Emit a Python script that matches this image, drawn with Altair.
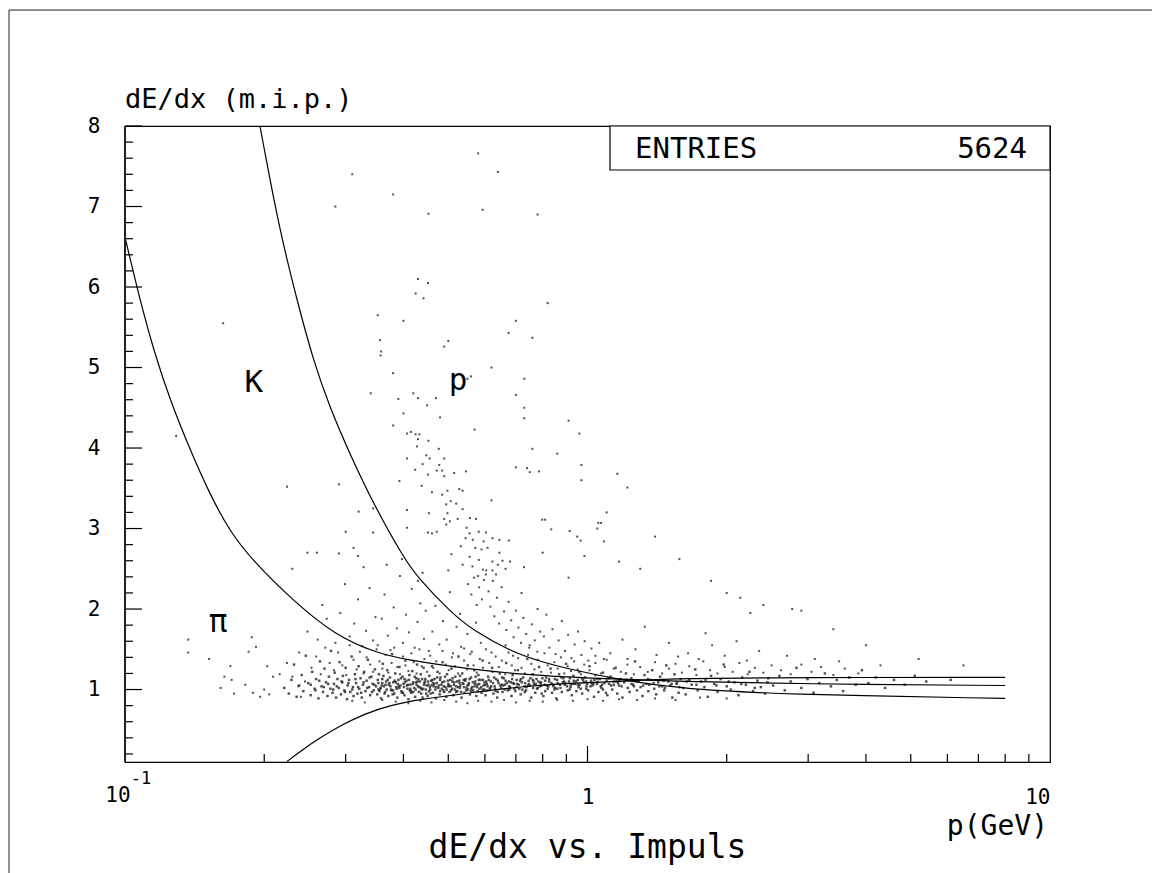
import altair as alt
import pandas as pd

# ---------------- curves ----------------
CURVE_A_P = [0.100, 0.1077, 0.1161, 0.1251, 0.1382, 0.1527, 0.1687, 0.1882, 0.2332, 0.2844,
             0.3471, 0.4031, 0.5626, 0.7147, 1.0, 1.585, 2.880, 8.0]
CURVE_A_V = [6.62, 5.84, 5.16, 4.60, 3.98, 3.42, 2.96, 2.61, 2.08, 1.68,
             1.46, 1.37, 1.25, 1.19, 1.14, 1.10, 1.07, 1.05]

CURVE_B_P = [0.1958, 0.2058, 0.2185, 0.2354, 0.2549, 0.2774, 0.3066, 0.3471, 0.4011, 0.4300,
             0.5043, 0.5626, 0.7147, 0.9166, 1.176, 1.585, 2.608, 8.0]
CURVE_B_V = [8.00, 7.33, 6.59, 5.84, 5.10, 4.50, 3.92, 3.27, 2.63, 2.39,
             1.97, 1.74, 1.41, 1.25, 1.12, 1.01, 0.94, 0.89]

CURVE_C_P = [0.2240, 0.2389, 0.2640, 0.2916, 0.3303, 0.3722, 0.4343, 0.5626, 0.7147, 1.0,
             1.176, 1.585, 2.880, 8.0]
CURVE_C_V = [0.106, 0.23, 0.40, 0.55, 0.70, 0.80, 0.88, 0.96, 1.04, 1.09,
             1.10, 1.14, 1.15, 1.15]

# ---------------- scatter entries ----------------
OUTLIERS = [
    (0.285, 7.00), (0.453, 6.91), (0.593, 6.96), (0.31, 7.40), (0.58, 7.66), (0.38, 7.15), (0.64, 7.43),
    (0.78, 6.90), (0.43, 6.10), (0.452, 6.05), (0.425, 5.92), (0.442, 5.86), (0.82, 5.80), (0.352, 5.65),
    (0.400, 5.58), (0.700, 5.58), (0.675, 5.43), (0.760, 5.37), (0.356, 5.34), (0.50, 5.33), (0.49, 5.26),
    (0.358, 5.20), (0.357, 5.15), (0.38, 4.93), (0.56, 4.89), (0.55, 4.86), (0.73, 4.86), (0.34, 4.68),
    (0.42, 4.68), (0.70, 4.66), (0.39, 4.61), (0.43, 4.62), (0.47, 4.62), (0.45, 4.53), (0.40, 4.43),
    (0.48, 4.38), (0.73, 4.50), (0.73, 4.37), (0.91, 4.34), (0.57, 4.23), (0.38, 4.28), (0.86, 3.93),
    (0.97, 3.60), (1.22, 3.51), (0.75, 3.70), (0.70, 3.76), (1.10, 3.20), (1.05, 3.00), (1.30, 2.50),
    (1.58, 2.62), (1.85, 2.35), (2.4, 2.05), (2.9, 1.98), (0.30, 2.96), (0.32, 3.21), (0.29, 3.55),
    (0.26, 2.70), (0.23, 2.50), (0.129, 4.15), (0.163, 5.55), (0.224, 3.52), (0.248, 2.70), (1.4, 2.9),
    (2.0, 2.2), (2.25, 1.95), (3.4, 1.75), (4.0, 1.55), (5.2, 1.38), (6.5, 1.3), (0.95, 2.9), (0.62, 5.0),
    (2.14, 2.14), (2.77, 2.0),
]

PROTON = [
    (0.407, 4.18), (0.415, 4.20), (0.425, 4.17), (0.433, 4.17), (0.43, 4.11), (0.453, 4.09), (0.428, 4.02),
    (0.477, 3.99), (0.448, 3.91), (0.456, 3.87), (0.49, 3.87), (0.407, 3.87), (0.478, 3.79), (0.44, 3.80),
    (0.424, 3.73), (0.472, 3.72), (0.485, 3.72), (0.515, 3.69), (0.546, 3.71), (0.452, 3.67), (0.49, 3.65),
    (0.392, 3.59), (0.438, 3.53), (0.461, 3.45), (0.485, 3.42), (0.498, 3.47), (0.528, 3.49), (0.537, 3.47),
    (0.506, 3.34), (0.495, 3.30), (0.52, 3.31), (0.537, 3.24), (0.454, 3.19), (0.498, 3.19), (0.49, 3.12),
    (0.504, 3.09), (0.524, 3.12), (0.495, 3.05), (0.557, 3.13), (0.574, 3.12), (0.472, 2.96), (0.452, 2.95),
    (0.461, 2.94), (0.548, 3.01), (0.556, 2.94), (0.582, 2.96), (0.603, 2.95), (0.545, 2.88), (0.565, 2.86),
    (0.596, 2.84), (0.623, 2.88), (0.645, 2.86), (0.676, 2.85), (0.532, 2.78), (0.572, 2.76), (0.59, 2.74),
    (0.608, 2.76), (0.645, 2.70), (0.508, 2.68), (0.556, 2.65), (0.582, 2.61), (0.623, 2.59), (0.655, 2.60),
    (0.68, 2.59), (0.537, 2.55), (0.564, 2.53), (0.594, 2.49), (0.623, 2.48), (0.665, 2.50), (0.603, 2.43),
    (0.58, 2.41), (0.634, 2.43), (0.50, 2.48), (0.44, 2.45), (0.407, 3.23), (0.407, 3.01), (0.344, 2.95),
    (0.344, 3.25), (0.319, 2.66), (0.312, 2.76), (0.29, 2.69), (0.328, 2.52), (0.729, 2.52), (0.798, 3.11),
    (0.81, 3.11), (0.835, 2.99), (0.915, 2.97), (0.967, 2.85), (0.985, 2.66), (1.085, 2.84), (1.055, 3.07),
    (1.07, 3.07), (1.17, 2.59), (1.16, 3.68), (0.97, 3.79), (0.785, 3.71), (0.74, 3.75), (0.76, 3.99),
    (0.96, 4.18), (0.62, 3.35), (0.80, 2.70), (0.91, 2.39),
    (0.552, 2.31), (0.561, 2.18), (0.568, 2.39), (0.576, 2.05), (0.583, 2.27), (0.591, 2.12), (0.597, 2.36),
    (0.604, 2.48), (0.611, 2.22), (0.617, 2.03), (0.624, 2.35), (0.629, 1.91), (0.637, 2.14), (0.644, 1.82),
    (0.652, 2.27), (0.66, 1.97), (0.668, 1.74), (0.675, 2.09), (0.684, 1.86), (0.692, 1.65), (0.7, 1.98),
    (0.709, 1.77), (0.718, 1.58), (0.727, 1.89), (0.737, 1.69), (0.748, 1.52), (0.758, 1.81), (0.769, 1.61),
    (0.779, 1.47), (0.79, 1.72), (0.64, 2.55), (0.72, 2.2), (0.665, 1.55), (0.78, 2.0),
    (0.805, 1.66), (0.815, 1.93), (0.827, 1.52), (0.84, 1.75), (0.853, 1.44), (0.866, 1.61), (0.88, 1.85),
    (0.894, 1.48), (0.908, 1.68), (0.923, 1.39), (0.938, 1.56), (0.954, 1.72), (0.97, 1.43), (0.986, 1.6),
    (1.004, 1.36), (1.02, 1.51), (1.04, 1.42), (1.06, 1.58), (1.085, 1.38),
]

KAON_CLOUD = [
    (0.261, 1.62), (0.273, 1.88), (0.248, 1.72), (0.267, 2.05),
    (0.285, 1.58), (0.292, 1.95), (0.299, 2.31), (0.306, 1.66), (0.313, 1.82), (0.319, 2.12), (0.326, 1.54),
    (0.332, 1.73), (0.338, 2.26), (0.344, 1.61), (0.348, 1.9),
    (0.352, 1.55), (0.359, 1.88), (0.364, 2.18), (0.37, 1.67), (0.375, 1.49), (0.381, 2.02), (0.387, 1.76),
    (0.393, 2.41), (0.399, 1.58), (0.405, 1.93), (0.411, 1.71), (0.417, 2.25), (0.423, 1.52), (0.429, 1.84),
    (0.435, 2.07), (0.443, 1.63), (0.447, 1.98), (0.368, 2.55), (0.397, 2.62), (0.43, 2.35),
    (0.454, 1.48), (0.462, 1.72), (0.469, 2.04), (0.478, 1.56), (0.487, 1.85), (0.496, 1.62), (0.504, 2.21),
    (0.512, 1.45), (0.521, 1.78), (0.53, 1.94), (0.541, 1.51), (0.55, 1.69), (0.562, 1.47), (0.574, 1.83),
    (0.588, 1.58), (0.62, 1.46), (0.69, 1.42), (0.75, 1.55),
    (1.12, 1.45), (1.19, 1.62), (1.27, 1.5), (1.33, 1.78), (1.41, 1.43), (1.5, 1.58), (1.57, 1.41),
    (1.22, 1.38), (1.65, 1.45), (1.74, 1.38), (1.86, 1.55), (1.98, 1.42), (2.1, 1.6), (2.21, 1.36),
    (2.35, 1.48), (1.8, 1.7), (2.7, 1.42), (3.1, 1.38), (3.5, 1.35), (4.3, 1.3),
]

LOW_P = [
    (0.137, 1.62), (0.137, 1.46), (0.152, 1.38), (0.169, 1.29), (0.164, 1.16), (0.161, 1.02), (0.172, 0.95),
    (0.170, 1.12), (0.188, 1.65), (0.185, 1.47), (0.192, 1.53), (0.182, 1.06), (0.189, 0.96), (0.196, 0.91),
    (0.203, 1.29), (0.209, 1.16), (0.200, 1.00), (0.205, 0.94), (0.216, 1.19), (0.224, 1.33), (0.230, 1.16),
    (0.237, 1.04), (0.238, 1.46), (0.240, 0.91), (0.245, 1.10),
]

BAND_SPREAD = [
    (0.253, 1.27), (0.259, 1.41), (0.265, 1.19), (0.271, 1.52), (0.277, 1.33), (0.283, 1.24), (0.289, 1.46),
    (0.295, 1.3), (0.301, 1.18), (0.306, 1.55), (0.312, 1.37), (0.317, 1.25), (0.322, 1.47), (0.328, 1.2),
    (0.333, 1.4), (0.339, 1.31), (0.344, 1.22), (0.35, 1.5), (0.355, 1.35), (0.36, 1.26), (0.366, 1.43),
    (0.371, 1.21), (0.377, 1.33), (0.382, 1.52), (0.388, 1.28), (0.393, 1.19), (0.399, 1.41), (0.404, 1.3),
    (0.41, 1.23), (0.416, 1.45), (0.421, 1.34), (0.427, 1.2), (0.433, 1.5), (0.438, 1.29), (0.444, 1.38),
    (0.45, 1.22),
    (0.457, 1.42), (0.464, 1.27), (0.471, 1.35), (0.479, 1.2), (0.486, 1.48), (0.494, 1.31), (0.501, 1.24),
    (0.509, 1.4), (0.517, 1.29), (0.525, 1.2), (0.533, 1.53), (0.541, 1.36), (0.549, 1.25), (0.558, 1.44),
    (0.567, 1.3), (0.576, 1.21), (0.585, 1.38), (0.594, 1.27), (0.603, 1.5), (0.613, 1.33), (0.623, 1.22),
    (0.633, 1.41), (0.643, 1.28), (0.653, 1.36), (0.664, 1.19), (0.675, 1.46), (0.686, 1.3), (0.697, 1.24),
    (0.708, 1.39), (0.72, 1.27), (0.732, 1.2), (0.744, 1.43), (0.756, 1.32), (0.768, 1.25), (0.781, 1.37),
    (0.794, 1.22), (0.807, 1.45), (0.82, 1.3), (0.834, 1.21), (0.848, 1.34), (0.862, 1.26), (0.876, 1.4),
    (0.891, 1.2), (0.906, 1.29), (0.921, 1.23), (0.936, 1.35), (0.952, 1.25), (0.968, 1.19), (0.984, 1.31),
    (1.01, 1.24), (1.04, 1.33), (1.07, 1.2), (1.1, 1.37), (1.14, 1.26), (1.18, 1.22), (1.22, 1.31),
    (1.26, 1.19), (1.3, 1.28), (1.35, 1.22), (1.4, 1.34), (1.45, 1.2), (1.5, 1.26), (1.55, 1.32),
    (1.6, 1.21), (1.66, 1.29), (1.72, 1.18), (1.78, 1.35), (1.84, 1.24), (1.91, 1.2), (1.98, 1.28),
    (2.06, 1.22), (2.13, 1.33), (2.22, 1.19), (2.3, 1.27), (2.4, 1.21), (2.5, 1.3), (2.62, 1.24),
    (2.75, 1.19), (2.9, 1.31), (3.05, 1.22), (3.2, 1.28), (3.4, 1.18), (3.6, 1.26), (3.85, 1.2),
    (0.31, 0.86), (0.33, 0.84), (0.36, 0.87), (0.385, 0.85), (0.41, 0.83), (0.435, 0.86), (0.46, 0.84),
    (0.49, 0.87), (0.52, 0.85), (0.55, 0.83), (0.58, 0.86), (0.62, 0.85), (0.66, 0.87), (0.7, 0.84),
    (0.75, 0.86), (0.8, 0.85), (0.86, 0.87), (0.93, 0.86), (1.0, 0.88), (1.08, 0.86), (1.17, 0.88),
    (1.28, 0.87), (1.4, 0.89), (1.55, 0.87), (1.75, 0.9), (2.0, 0.89),
]

BAND = [
    (0.221, 1.02), (0.226, 0.95), (0.229, 1.12), (0.232, 1.31), (0.235, 0.91), (0.238, 1.05), (0.241, 1.18),
    (0.243, 0.98), (0.246, 1.42), (0.249, 1.08), (0.252, 0.93), (0.254, 1.22), (0.257, 1.01), (0.259, 1.13),
    (0.262, 0.89), (0.264, 1.35), (0.266, 1.04), (0.268, 0.97), (0.27, 1.26), (0.272, 1.09), (0.274, 0.92),
    (0.276, 1.16), (0.278, 1.01), (0.279, 1.48),
    (0.281, 0.96), (0.283, 1.07), (0.284, 1.21), (0.286, 0.90), (0.288, 1.13), (0.29, 1.02), (0.291, 1.34),
    (0.293, 0.94), (0.295, 1.09), (0.296, 1.17), (0.298, 0.99), (0.3, 1.27), (0.302, 0.88), (0.303, 1.05),
    (0.305, 1.12), (0.307, 0.97), (0.309, 1.41), (0.311, 1.03), (0.312, 0.92), (0.314, 1.19), (0.316, 1.08),
    (0.318, 0.95), (0.32, 1.29), (0.321, 1.01), (0.323, 1.14), (0.325, 0.9), (0.327, 1.06), (0.329, 1.22),
    (0.331, 0.98), (0.333, 1.11), (0.335, 1.37), (0.337, 1.03), (0.339, 0.93), (0.341, 1.16), (0.343, 1.07),
    (0.345, 0.99), (0.347, 1.25), (0.349, 1.04),
    (0.351, 0.94), (0.353, 1.08), (0.354, 1.19), (0.356, 1.01), (0.358, 0.89), (0.36, 1.13), (0.361, 1.32),
    (0.363, 1.04), (0.365, 0.97), (0.367, 1.1), (0.369, 1.24), (0.371, 0.92), (0.372, 1.06), (0.374, 1.15),
    (0.376, 1.0), (0.378, 1.44), (0.38, 1.09), (0.382, 0.95), (0.384, 1.2), (0.386, 1.03), (0.388, 0.9),
    (0.39, 1.12), (0.392, 1.28), (0.394, 1.05), (0.396, 0.98), (0.398, 1.16), (0.4, 1.07), (0.402, 0.93),
    (0.404, 1.36), (0.406, 1.11), (0.408, 1.01), (0.41, 0.88), (0.412, 1.18), (0.414, 1.06), (0.416, 0.96),
    (0.418, 1.23), (0.42, 1.09), (0.422, 1.02), (0.424, 0.91), (0.426, 1.14), (0.428, 1.31), (0.43, 1.04),
    (0.432, 0.97), (0.434, 1.1), (0.436, 1.19), (0.438, 1.0), (0.44, 0.9), (0.442, 1.27), (0.444, 1.08),
    (0.446, 1.13), (0.448, 0.95), (0.449, 1.05), (0.357, 1.02), (0.366, 1.06), (0.377, 0.99), (0.389, 1.07),
    (0.401, 1.03), (0.413, 0.99), (0.427, 1.06), (0.441, 1.01),
    (0.451, 0.92), (0.453, 1.06), (0.455, 1.17), (0.457, 1.0), (0.459, 1.11), (0.461, 1.29), (0.463, 0.96),
    (0.465, 1.04), (0.467, 1.13), (0.47, 0.89), (0.472, 1.08), (0.474, 1.22), (0.476, 1.02), (0.479, 0.94),
    (0.481, 1.15), (0.483, 1.06), (0.486, 1.34), (0.488, 0.99), (0.49, 1.1), (0.493, 1.03), (0.495, 0.91),
    (0.497, 1.19), (0.5, 1.07), (0.503, 0.97), (0.505, 1.12), (0.508, 1.26), (0.51, 1.01), (0.513, 0.93),
    (0.515, 1.09), (0.518, 1.16), (0.52, 1.04), (0.523, 0.98), (0.526, 1.41), (0.528, 1.11), (0.531, 1.05),
    (0.534, 0.9), (0.536, 1.2), (0.539, 1.07), (0.542, 0.96), (0.545, 1.13), (0.548, 1.02), (0.551, 1.3),
    (0.554, 1.08), (0.557, 0.94), (0.56, 1.15), (0.563, 1.03), (0.566, 0.99), (0.569, 1.24), (0.572, 1.1),
    (0.575, 0.92), (0.578, 1.06), (0.581, 1.18), (0.584, 1.01), (0.587, 1.12), (0.59, 0.96), (0.593, 1.36),
    (0.596, 1.05), (0.599, 1.09), (0.46, 1.05), (0.484, 1.01), (0.506, 1.04), (0.529, 1.08), (0.552, 1.0),
    (0.577, 1.03), (0.598, 1.0),
    (0.602, 0.93), (0.606, 1.07), (0.61, 1.16), (0.614, 1.0), (0.618, 1.1), (0.622, 1.27), (0.626, 0.95),
    (0.63, 1.04), (0.634, 1.13), (0.638, 0.9), (0.642, 1.08), (0.646, 1.2), (0.65, 1.02), (0.655, 0.97),
    (0.659, 1.14), (0.663, 1.06), (0.667, 1.33), (0.672, 0.99), (0.676, 1.1), (0.68, 1.03), (0.685, 0.92),
    (0.689, 1.18), (0.694, 1.07), (0.698, 0.98), (0.703, 1.12), (0.707, 1.24), (0.712, 1.01), (0.717, 0.94),
    (0.721, 1.09), (0.726, 1.15), (0.731, 1.04), (0.736, 0.99), (0.741, 1.38), (0.746, 1.11), (0.751, 1.05),
    (0.756, 0.9), (0.761, 1.19), (0.766, 1.07), (0.771, 0.96), (0.776, 1.13), (0.781, 1.02), (0.786, 1.28),
    (0.791, 1.08), (0.796, 0.95), (0.799, 1.14), (0.608, 1.04), (0.631, 1.01), (0.657, 1.05), (0.683, 1.09),
    (0.71, 1.06), (0.738, 1.03), (0.764, 1.1), (0.789, 1.04),
    (0.803, 0.92), (0.808, 1.06), (0.814, 1.15), (0.82, 1.01), (0.826, 1.1), (0.832, 1.26), (0.838, 0.96),
    (0.844, 1.04), (0.85, 1.13), (0.856, 0.89), (0.862, 1.08), (0.868, 1.19), (0.874, 1.02), (0.88, 0.97),
    (0.887, 1.14), (0.893, 1.06), (0.899, 1.32), (0.906, 0.99), (0.912, 1.1), (0.919, 1.03), (0.925, 0.93),
    (0.932, 1.17), (0.939, 1.07), (0.946, 0.98), (0.953, 1.12), (0.96, 1.22), (0.967, 1.01), (0.974, 0.95),
    (0.981, 1.09), (0.988, 1.15), (0.995, 1.04), (1.003, 0.99), (1.01, 1.29), (1.018, 1.11), (1.025, 1.05),
    (1.033, 0.91), (1.04, 1.18), (1.048, 1.07), (1.056, 0.97), (1.064, 1.13), (1.072, 1.02), (1.08, 1.21),
    (1.088, 1.08), (1.096, 0.96), (0.817, 1.05), (0.851, 1.02), (0.884, 1.09), (0.92, 1.06), (0.957, 1.03),
    (0.993, 1.1), (1.03, 1.07), (1.068, 1.04),
    (1.104, 0.93), (1.113, 1.07), (1.122, 1.16), (1.131, 1.0), (1.14, 1.1), (1.15, 1.27), (1.16, 0.95),
    (1.17, 1.05), (1.18, 1.13), (1.19, 0.9), (1.2, 1.09), (1.211, 1.2), (1.222, 1.02), (1.233, 0.97),
    (1.244, 1.14), (1.255, 1.06), (1.267, 1.35), (1.279, 0.99), (1.291, 1.11), (1.303, 1.03), (1.315, 0.92),
    (1.328, 1.18), (1.341, 1.07), (1.354, 0.98), (1.367, 1.12), (1.38, 1.24), (1.394, 1.01), (1.408, 0.94),
    (1.422, 1.09), (1.436, 1.16), (1.45, 1.04), (1.465, 0.99), (1.48, 1.3), (1.495, 1.1), (1.51, 1.05),
    (1.526, 0.9), (1.542, 1.19), (1.558, 1.07), (1.574, 0.96), (1.59, 1.13), (1.165, 1.08), (1.26, 1.04),
    (1.36, 1.06), (1.47, 1.02), (1.56, 1.09),
    (1.61, 1.02), (1.63, 0.94), (1.66, 1.12), (1.68, 1.06), (1.71, 1.25), (1.73, 0.99), (1.76, 1.1),
    (1.79, 1.03), (1.82, 0.91), (1.85, 1.17), (1.88, 1.07), (1.91, 0.97), (1.94, 1.13), (1.97, 1.31),
    (2.0, 1.04), (2.04, 1.0), (2.08, 1.09), (2.12, 0.93), (2.16, 1.15), (2.2, 1.06), (2.24, 1.22),
    (2.28, 0.98), (2.33, 1.11), (2.37, 1.03), (2.42, 0.95), (2.46, 1.14),
    (2.52, 1.05), (2.6, 1.17), (2.67, 0.99), (2.75, 1.1), (2.83, 1.27), (2.9, 1.02), (2.99, 1.13),
    (3.08, 0.96), (3.17, 1.08), (3.26, 1.2), (3.36, 1.04), (3.46, 1.12), (3.57, 0.98), (3.68, 1.15),
    (3.8, 1.06), (3.92, 1.24),
    (4.05, 1.08), (4.2, 1.15), (4.4, 1.02), (4.6, 1.12), (4.85, 1.06), (5.1, 1.17), (5.4, 1.1), (6.1, 1.12),
]

BAND_CORE = [
    (0.252, 1.06), (0.258, 0.99), (0.263, 1.11), (0.269, 1.03), (0.275, 1.07), (0.282, 1.0), (0.287, 1.04),
    (0.294, 1.1), (0.299, 0.97), (0.304, 1.08), (0.31, 1.0), (0.315, 1.13), (0.319, 1.03), (0.324, 0.96),
    (0.328, 1.09), (0.334, 1.02), (0.338, 1.15), (0.342, 0.97), (0.346, 1.06), (0.352, 1.12), (0.355, 0.98),
    (0.359, 1.05), (0.362, 1.17), (0.368, 1.0), (0.373, 1.08), (0.379, 0.94), (0.383, 1.11), (0.387, 1.01),
    (0.391, 1.04), (0.395, 1.14), (0.399, 0.96), (0.403, 1.09), (0.407, 1.05), (0.411, 1.12), (0.415, 0.98),
    (0.419, 1.07), (0.423, 1.16), (0.425, 1.0), (0.429, 1.1), (0.433, 1.03), (0.437, 0.95), (0.439, 1.13),
    (0.443, 1.06), (0.447, 1.0), (0.452, 1.1), (0.456, 1.03), (0.458, 0.95), (0.462, 1.12), (0.466, 1.07),
    (0.469, 1.0), (0.473, 1.15), (0.477, 1.05), (0.48, 0.98), (0.485, 1.09), (0.489, 1.04), (0.492, 1.16),
    (0.496, 1.0), (0.499, 1.11), (0.502, 1.05), (0.507, 0.99), (0.511, 1.14), (0.514, 1.06), (0.517, 1.0),
    (0.522, 1.1), (0.525, 1.03), (0.53, 1.17), (0.533, 0.97), (0.537, 1.08), (0.541, 1.03), (0.544, 1.11),
    (0.547, 0.99), (0.553, 1.06), (0.556, 1.13), (0.561, 1.01), (0.565, 1.09), (0.57, 1.04), (0.573, 1.16),
    (0.579, 0.98), (0.583, 1.07), (0.589, 1.03), (0.594, 1.12), (0.6, 1.06), (0.605, 0.99), (0.612, 1.12),
    (0.619, 1.04), (0.625, 1.08), (0.633, 0.98), (0.64, 1.11), (0.648, 1.05), (0.654, 1.15), (0.662, 1.0),
    (0.669, 1.08), (0.677, 1.04), (0.687, 1.13), (0.695, 1.01), (0.705, 1.07), (0.715, 1.11), (0.723, 1.0),
    (0.733, 1.08), (0.743, 1.05), (0.753, 1.14), (0.763, 1.02), (0.773, 1.07), (0.783, 1.1), (0.795, 1.05),
    (0.81, 1.11), (0.823, 1.04), (0.835, 1.08), (0.848, 1.0), (0.86, 1.12), (0.872, 1.06), (0.89, 1.1),
    (0.903, 1.04), (0.916, 1.14), (0.93, 1.07), (0.945, 1.1), (0.962, 1.06), (0.978, 1.12), (0.998, 1.07),
    (1.015, 1.04), (1.035, 1.12), (1.052, 1.09), (1.075, 1.06), (1.1, 1.11), (1.125, 1.05), (1.155, 1.1),
    (1.185, 1.04), (1.215, 1.12), (1.245, 1.07), (1.28, 1.1), (1.32, 1.05), (1.35, 1.13), (1.39, 1.08),
    (1.43, 1.04), (1.46, 1.11), (1.52, 1.07), (1.58, 1.03), (1.64, 1.1), (1.72, 1.06), (1.8, 1.12),
    (1.9, 1.05), (2.02, 1.1), (2.15, 1.07), (2.3, 1.02), (2.45, 1.09),
    (0.353, 1.0), (0.36, 1.08), (0.364, 0.95), (0.37, 1.12), (0.375, 1.04), (0.38, 0.99), (0.385, 1.09),
    (0.392, 1.02), (0.397, 0.96), (0.402, 1.13), (0.409, 1.06), (0.414, 1.01), (0.42, 0.97), (0.426, 1.09),
    (0.431, 1.13), (0.436, 1.02), (0.445, 1.1), (0.454, 0.98), (0.463, 1.08), (0.471, 1.03), (0.48, 1.12),
    (0.49, 0.97), (0.5, 1.04), (0.51, 1.1), (0.52, 0.97), (0.53, 1.02), (0.54, 1.12), (0.55, 1.05),
    (0.56, 0.98), (0.571, 1.07), (0.582, 1.12), (0.593, 1.0), (0.604, 1.1), (0.616, 1.02), (0.628, 1.15),
    (0.64, 0.97), (0.652, 1.06), (0.665, 1.11), (0.678, 1.0), (0.69, 1.08), (0.703, 1.03), (0.718, 1.13),
    (0.732, 0.97), (0.747, 1.07), (0.762, 1.12), (0.778, 1.01), (0.793, 1.09), (0.81, 0.98), (0.826, 1.13),
    (0.843, 1.06), (0.86, 1.01), (0.878, 1.15), (0.896, 1.08), (0.915, 1.0), (0.934, 1.11), (0.953, 1.06),
    (0.973, 1.14), (0.994, 1.01), (1.02, 1.08), (1.05, 1.13), (1.08, 1.0), (1.11, 1.14), (1.14, 1.06),
    (1.17, 1.12),
]

# axis tick values
Y_MAJOR = [1, 2, 3, 4, 5, 6, 7, 8]
Y_MINOR = [0.2, 0.4, 0.6, 0.8, 1.2, 1.4, 1.6, 1.8, 2.2, 2.4, 2.6, 2.8, 3.2, 3.4, 3.6, 3.8,
           4.2, 4.4, 4.6, 4.8, 5.2, 5.4, 5.6, 5.8, 6.2, 6.4, 6.6, 6.8, 7.2, 7.4, 7.6, 7.8]
X_MAJOR = [1]
X_MINOR = [0.2, 0.3, 0.4, 0.5, 0.6, 0.7, 0.8, 0.9, 2, 3, 4, 5, 6, 7, 8, 9]

# region labels
LABELS = ["K", "p", "π"]
LABEL_P = [0.19, 0.525, 0.159]
LABEL_V = [4.70, 4.72, 1.71]

ENTRIES = 5624

W, H = 925, 636
FONT = "DejaVu Sans Mono"

xs = alt.Scale(type="log", domain=[0.1, 10], nice=False)
ys = alt.Scale(domain=[0.1, 8], nice=False, zero=False)

curves = pd.concat([
    pd.DataFrame({"p": CURVE_A_P, "v": CURVE_A_V, "c": "A"}),
    pd.DataFrame({"p": CURVE_B_P, "v": CURVE_B_V, "c": "B"}),
    pd.DataFrame({"p": CURVE_C_P, "v": CURVE_C_V, "c": "C"}),
], ignore_index=True)
curves["o"] = range(len(curves))

sparse = pd.DataFrame(OUTLIERS + PROTON + KAON_CLOUD + LOW_P + BAND_SPREAD, columns=["p", "v"])
dense = pd.DataFrame(BAND + BAND_CORE, columns=["p", "v"])

one = pd.DataFrame({"k": [0]})

xaxis = alt.Axis(values=[1, 10], ticks=False, domain=False, grid=False, title=None,
                 labelFont=FONT, labelFontSize=21, labelPadding=24, labelColor="black",
                 labelExpr="datum.value == 1 ? '1' : '10'")
yaxis = alt.Axis(values=Y_MAJOR, ticks=False, domain=False, grid=False, title=None, format="d",
                 labelFont=FONT, labelFontSize=21, labelPadding=25, labelColor="black")

scatter_sparse = alt.Chart(sparse).mark_square(size=4, color="#333", opacity=0.85).encode(
    x=alt.X("p:Q", scale=xs, axis=xaxis),
    y=alt.Y("v:Q", scale=ys, axis=yaxis),
)
scatter_dense = alt.Chart(dense).mark_square(size=6, color="#222", opacity=0.8).encode(
    x=alt.X("p:Q", scale=xs), y=alt.Y("v:Q", scale=ys)
)

lines = alt.Chart(curves).mark_line(color="black", strokeWidth=1.2, clip=True,
                                    interpolate="basis").encode(
    x=alt.X("p:Q", scale=xs), y=alt.Y("v:Q", scale=ys), detail="c:N", order="o:Q"
)

ymaj = alt.Chart(pd.DataFrame({"v": Y_MAJOR})).mark_rule(color="black", strokeWidth=1.2).encode(
    y=alt.Y("v:Q", scale=ys), x=alt.value(0), x2=alt.value(17))
ymin = alt.Chart(pd.DataFrame({"v": Y_MINOR})).mark_rule(color="black", strokeWidth=1.2).encode(
    y=alt.Y("v:Q", scale=ys), x=alt.value(0), x2=alt.value(8))
xmaj = alt.Chart(pd.DataFrame({"p": X_MAJOR})).mark_rule(color="black", strokeWidth=1.2).encode(
    x=alt.X("p:Q", scale=xs), y=alt.value(H), y2=alt.value(H - 16))
xmin = alt.Chart(pd.DataFrame({"p": X_MINOR})).mark_rule(color="black", strokeWidth=1.2).encode(
    x=alt.X("p:Q", scale=xs), y=alt.value(H), y2=alt.value(H - 8))

left_axis = alt.Chart(one).mark_rule(color="#222", strokeWidth=2).encode(
    x=alt.value(0), y=alt.value(0), y2=alt.value(H))

# outer page frame
frame_left = alt.Chart(one).mark_rule(color="#222", strokeWidth=1).encode(
    x=alt.value(-116), y=alt.value(-116), y2=alt.value(H + 120))
frame_top = alt.Chart(one).mark_rule(color="#222", strokeWidth=1).encode(
    x=alt.value(-116), x2=alt.value(W + 110), y=alt.value(-116))

# 10^-1 label
lab10 = alt.Chart(pd.DataFrame({"p": [0.1]})).mark_text(
    font=FONT, fontSize=21, baseline="alphabetic", align="center", dx=-7, color="black").encode(
    x=alt.X("p:Q", scale=xs), y=alt.value(H + 40), text=alt.value("10"))
labexp = alt.Chart(pd.DataFrame({"p": [0.1]})).mark_text(
    font=FONT, fontSize=17, baseline="alphabetic", align="center", dx=16, color="black").encode(
    x=alt.X("p:Q", scale=xs), y=alt.value(H + 22), text=alt.value("-1"))

ytitle = alt.Chart(one).mark_text(font=FONT, fontSize=27, align="left", baseline="alphabetic",
                                  color="black").encode(
    x=alt.value(0), y=alt.value(-18), text=alt.value("dE/dx (m.i.p.)"))
xunit = alt.Chart(one).mark_text(font=FONT, fontSize=28, align="right", baseline="alphabetic",
                                 color="black").encode(
    x=alt.value(W - 2), y=alt.value(H + 73), text=alt.value("p(GeV)"))
title = alt.Chart(one).mark_text(font=FONT, fontSize=33, align="center", baseline="alphabetic",
                                 color="black").encode(
    x=alt.value(W / 2), y=alt.value(H + 96), text=alt.value("dE/dx vs. Impuls"))

box = alt.Chart(one).mark_rect(fill="white", stroke="black", strokeWidth=1.2).encode(
    x=alt.value(485), x2=alt.value(W), y=alt.value(0), y2=alt.value(44))
box_l = alt.Chart(one).mark_text(font=FONT, fontSize=29, align="left", baseline="alphabetic",
                                 color="black").encode(
    x=alt.value(510), y=alt.value(32), text=alt.value("ENTRIES"))
box_r = alt.Chart(one).mark_text(font=FONT, fontSize=29, align="right", baseline="alphabetic",
                                 color="black").encode(
    x=alt.value(902), y=alt.value(32), text=alt.value(str(ENTRIES)))

region = alt.Chart(pd.DataFrame({"p": LABEL_P, "v": LABEL_V, "t": LABELS})).mark_text(
    font=FONT, fontSize=31, align="center", baseline="alphabetic", color="black").encode(
    x=alt.X("p:Q", scale=xs), y=alt.Y("v:Q", scale=ys), text="t:N")

chart = alt.layer(
    scatter_sparse, scatter_dense, lines, ymaj, ymin, xmaj, xmin, left_axis, frame_left, frame_top,
    lab10, labexp, ytitle, xunit, title, box, box_l, box_r, region
).properties(
    width=W, height=H,
    autosize=alt.AutoSizeParams(type="none"),
    padding={"left": 125, "top": 126, "right": 102, "bottom": 111},
    background="white",
).configure_view(stroke="black", strokeWidth=1.2)

chart.save("out.html", embed_options={"renderer": "svg", "actions": False})
